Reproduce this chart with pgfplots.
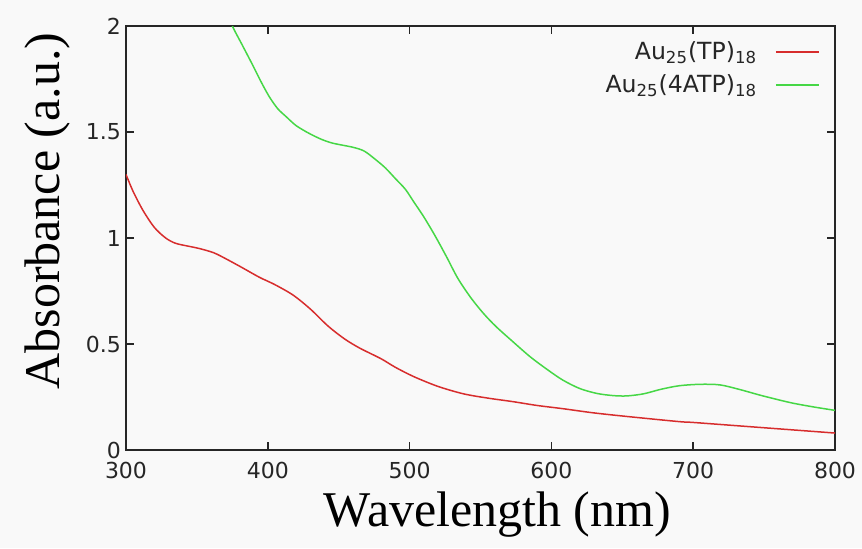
\documentclass[border=0pt]{standalone}
\usepackage{pgfplots}
\pgfplotsset{compat=1.18}
\usepackage{fontspec}
\setmainfont{Liberation Serif}
\newfontfamily\sansf{DejaVu Sans}
\definecolor{cred}{RGB}{215,45,45}
\definecolor{cgreen}{RGB}{70,215,70}
\definecolor{bg}{RGB}{249,249,249}
\begin{document}
\begin{tikzpicture}
\path[use as bounding box, fill=bg] (-63pt,-49pt) rectangle (368pt,225pt);
\begin{axis}[
  at={(0,0)}, anchor=south west,
  scale only axis, width=354.5pt, height=212pt,
  xmin=300, xmax=800, ymin=0, ymax=2,
  xtick={300,400,...,800}, ytick={0,0.5,1,1.5,2},
  tick align=inside, major tick length=4pt,
  axis line style={line width=0.75pt, black!85},
  every tick/.style={line width=0.75pt, black!85},
  /pgf/number format/assume math mode=true,
  ticklabel style={font=\sansf\fontsize{11}{13}\selectfont, text=black!85},
  yticklabel style={xshift=1pt},
  xticklabel style={yshift=-2.5pt},
  xlabel={Wavelength (nm)}, ylabel={Absorbance (a.u.)},
  every axis x label/.style={at={(axis description cs:0.5,0)}, anchor=center, yshift=-32.5pt, xshift=8.5pt, font=\fontsize{25}{28}\selectfont},
  every axis y label/.style={at={(axis description cs:0,0.5)}, anchor=center, rotate=90, yshift=39.5pt, xshift=13.5pt, font=\fontsize{25}{28}\selectfont},
  legend style={draw=none, fill=none, at={(1,1)}, anchor=north east, xshift=-4.5pt, yshift=-3.5pt,
    font=\sansf\fontsize{11.8}{14}\selectfont, row sep=2pt, text=black!85},
  legend cell align=right,
  legend plot pos=right,
  legend image code/.code={\path (0pt,0pt); \draw[#1, line width=0.75pt] (7pt,0pt) -- (28.5pt,0pt);},
]
\addplot[cred, line width=0.75pt, smooth] coordinates {
(300,1.30) (305,1.22) (312,1.13) (320,1.05) (328,1.00) (335,0.975) (345,0.96)
(352,0.95) (362,0.93) (371,0.90) (382,0.86) (394,0.815) (405,0.78) (418,0.73)
(430,0.665) (440,0.60) (446,0.565) (455,0.52) (465,0.48) (480,0.43) (490,0.39)
(503,0.346) (520,0.30) (538,0.265) (555,0.245) (573,0.228) (590,0.21) (608,0.195)
(630,0.175) (655,0.157) (690,0.134) (700,0.13) (730,0.115) (760,0.10) (800,0.08)
};
\addlegendentry{Au\textsubscript{25}(TP)\textsubscript{18}}
\addplot[cgreen, line width=0.75pt, smooth] coordinates {
(372,2.06) (375,2.00) (382,1.91) (389,1.82) (395,1.74) (401,1.667) (407,1.61) (413,1.572)
(420,1.53) (429,1.494) (438,1.465) (446,1.447) (460,1.428) (468,1.41) (476,1.37)
(483,1.33) (490,1.28) (497,1.23) (503,1.17) (510,1.10) (518,1.01) (526,0.912)
(534,0.81) (543,0.72) (552,0.645) (561,0.582) (573,0.51) (585,0.44) (597,0.38)
(608,0.33) (620,0.29) (632,0.267) (643,0.257) (653,0.255) (665,0.265) (677,0.286)
(690,0.303) (705,0.31) (719,0.307) (733,0.285) (747,0.259) (760,0.237) (771,0.22)
(785,0.203) (800,0.187)
};
\addlegendentry{Au\textsubscript{25}(4ATP)\textsubscript{18}}
\end{axis}
\end{tikzpicture}
\end{document}
